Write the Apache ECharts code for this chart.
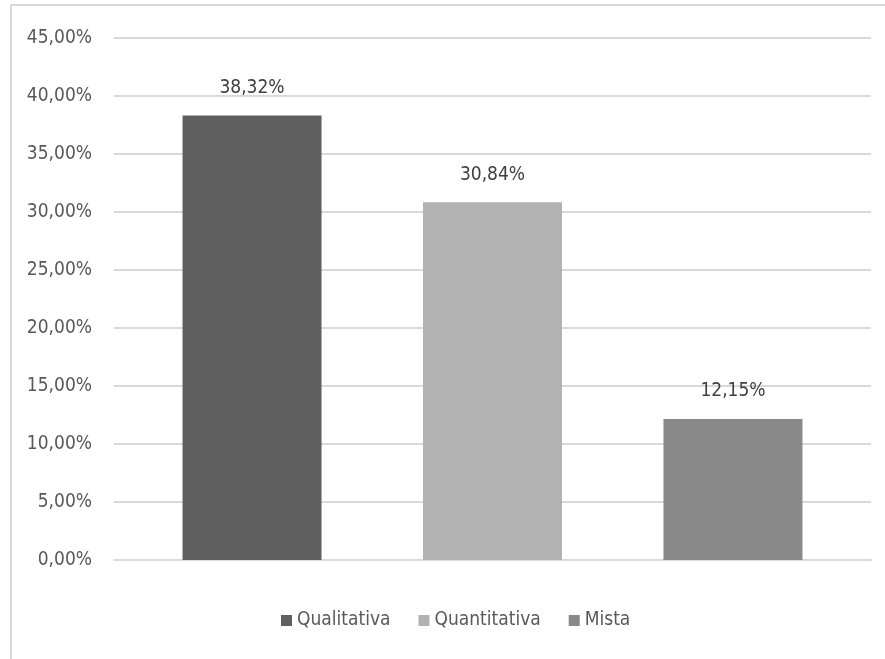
<!DOCTYPE html>
<html>
<head>
<meta charset="utf-8">
<script src="https://cdn.jsdelivr.net/npm/echarts@6/dist/echarts.min.js"></script>
<style>
  html, body { margin: 0; padding: 0; background: #fff; }
  #chart { width: 885px; height: 659px; }
</style>
</head>
<body>
<div id="chart"></div>
<script>
// Data
const seriesNames = ['Qualitativa', 'Quantitativa', 'Mista'];
const seriesValues = [38.32, 30.84, 12.15];
const seriesColors = ['#5f5f5f', '#b2b2b2', '#898989'];
const categories = [''];

const fontFam = "'Liberation Sans Narrow', 'DejaVu Sans Condensed', 'Open Sans', sans-serif";
const pct = v => v.toFixed(2).replace('.', ',') + '%';

const chart = echarts.init(document.getElementById('chart'));
chart.setOption({
  animation: false,
  textStyle: { fontFamily: fontFam },
  graphic: [{
    type: 'rect',
    shape: { x: 11, y: 5, width: 890, height: 700 },
    style: { fill: 'none', stroke: '#d9d9d9', lineWidth: 2 },
    silent: true
  }],
  legend: {
    bottom: 24,
    left: 276,
    itemWidth: 11,
    itemHeight: 11,
    itemGap: 28,
    icon: 'rect',
    textStyle: { color: '#595959', fontSize: 19, fontFamily: fontFam },
    data: seriesNames
  },
  grid: { left: 114, right: 14, top: 38, bottom: 99 },
  xAxis: {
    type: 'category',
    data: categories,
    axisLine: { show: true, lineStyle: { color: '#d9d9d9', width: 2 } },
    axisTick: { show: false },
    axisLabel: { show: false }
  },
  yAxis: {
    type: 'value',
    min: 0,
    max: 45,
    interval: 5,
    axisLine: { show: false },
    axisTick: { show: false },
    axisLabel: {
      color: '#595959',
      fontSize: 19,
      fontFamily: fontFam,
      margin: 22,
      formatter: v => pct(v)
    },
    splitLine: { lineStyle: { color: '#d9d9d9', width: 2 } }
  },
  series: seriesNames.map((name, i) => ({
    name: name,
    type: 'bar',
    data: [seriesValues[i]],
    barWidth: 139,
    barGap: '73%',
    itemStyle: { color: seriesColors[i] },
    label: {
      show: true,
      position: 'top',
      distance: 18,
      color: '#404040',
      fontSize: 19,
      fontFamily: fontFam,
      formatter: p => pct(p.value)
    }
  }))
});
</script>
</body>
</html>
